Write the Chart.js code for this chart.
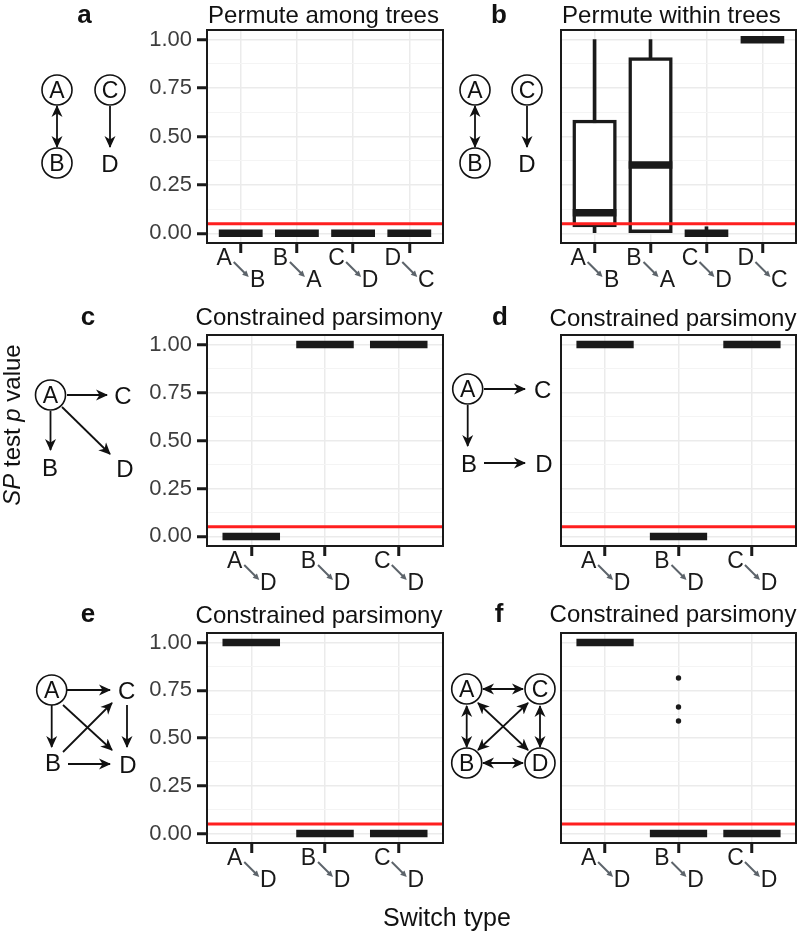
<!DOCTYPE html>
<html>
<head>
<meta charset="utf-8">
<script src="https://cdn.jsdelivr.net/npm/chart.js@4.4.1/dist/chart.umd.min.js"></script>
<style>
  body { margin: 0; background: #fff; }
  #fig { position: relative; width: 800px; height: 933px; font-family: 'Liberation Sans', Arial, Helvetica, sans-serif; }
  #fig canvas { position: absolute; }
  #fig svg { position: absolute; left: 0; top: 0; pointer-events: none; }
  .title { font-size: 24px; text-anchor: middle; fill: #111; }
  .tag { font-size: 26px; font-weight: bold; text-anchor: middle; fill: #111; }
  .dg circle { fill: none; stroke: #111; stroke-width: 1.6; }
  .cl { font-size: 23px; text-anchor: middle; fill: #111; }
  .pl { font-size: 24px; text-anchor: middle; fill: #111; }
  .one { stroke: #111; stroke-width: 1.8; marker-end: url(#ah); }
  .dbl { stroke: #111; stroke-width: 1.8; marker-start: url(#ah); marker-end: url(#ah); }
</style>
</head>
<body>
<div id="fig">
  <canvas id="pa" width="320" height="275" style="left:130px;top:25px"></canvas>
  <canvas id="pb" width="245" height="275" style="left:555px;top:25px"></canvas>
  <canvas id="pc" width="320" height="270" style="left:130px;top:330px"></canvas>
  <canvas id="pd" width="245" height="270" style="left:555px;top:330px"></canvas>
  <canvas id="pe" width="320" height="272" style="left:130px;top:628px"></canvas>
  <canvas id="pf" width="245" height="272" style="left:555px;top:628px"></canvas>

  <svg width="800" height="933">
    <defs>
      <marker id="ah" viewBox="0 0 12 12" refX="11" refY="6" markerWidth="12" markerHeight="12"
              markerUnits="userSpaceOnUse" orient="auto-start-reverse">
        <path d="M0,0.5 L12,6 L0,11.5 L3.5,6 Z" fill="#111"/>
      </marker>
    </defs>

    <!-- panel tags and titles -->
    <text class="tag" x="84.5" y="23">a</text>
    <text class="tag" x="499" y="23">b</text>
    <text class="tag" x="88" y="325">c</text>
    <text class="tag" x="500" y="325">d</text>
    <text class="tag" x="88" y="622">e</text>
    <text class="tag" x="499" y="622">f</text>
    <text class="title" x="323.5" y="23">Permute among trees</text>
    <text class="title" x="671.5" y="23">Permute within trees</text>
    <text class="title" x="319" y="325">Constrained parsimony</text>
    <text class="title" x="673" y="326">Constrained parsimony</text>
    <text class="title" x="319" y="623">Constrained parsimony</text>
    <text class="title" x="673" y="622">Constrained parsimony</text>

    <!-- axis titles -->
    <text transform="translate(20,425) rotate(-90)" text-anchor="middle" font-size="24" fill="#111"><tspan font-style="italic">SP</tspan> test <tspan font-style="italic">p</tspan> value</text>
    <text x="447" y="926" text-anchor="middle" font-size="25" fill="#111">Switch type</text>

    <!-- a: A<->B, C->D -->
    <g class="dg">
      <circle cx="57" cy="90" r="15"/><text class="cl" x="57" y="98.2">A</text>
      <circle cx="110" cy="90" r="15"/><text class="cl" x="110" y="98.2">C</text>
      <circle cx="57" cy="163" r="15"/><text class="cl" x="57" y="171.2">B</text>
      <text class="pl" x="110" y="171.6">D</text>
      <line class="dbl" x1="57" y1="106" x2="57" y2="147"/>
      <line class="one" x1="110" y1="106" x2="110" y2="147"/>
    </g>
    <!-- b -->
    <g class="dg">
      <circle cx="475" cy="90" r="15"/><text class="cl" x="475" y="98.2">A</text>
      <circle cx="527" cy="90" r="15"/><text class="cl" x="527" y="98.2">C</text>
      <circle cx="475" cy="163" r="15"/><text class="cl" x="475" y="171.2">B</text>
      <text class="pl" x="527" y="171.6">D</text>
      <line class="dbl" x1="475" y1="106" x2="475" y2="147"/>
      <line class="one" x1="527" y1="106" x2="527" y2="147"/>
    </g>
    <!-- c -->
    <g class="dg">
      <circle cx="50.5" cy="395" r="15"/><text class="cl" x="50.5" y="403.2">A</text>
      <text class="pl" x="123" y="403.6">C</text>
      <text class="pl" x="50" y="475.6">B</text>
      <text class="pl" x="125" y="476.6">D</text>
      <line class="one" x1="67" y1="395" x2="107" y2="395"/>
      <line class="one" x1="50.5" y1="411" x2="50.5" y2="450"/>
      <line class="one" x1="62" y1="407" x2="110" y2="454"/>
    </g>
    <!-- d -->
    <g class="dg">
      <circle cx="467.7" cy="389" r="15"/><text class="cl" x="467.7" y="397.2">A</text>
      <text class="pl" x="542.7" y="397.6">C</text>
      <text class="pl" x="469" y="471.6">B</text>
      <text class="pl" x="544" y="471.6">D</text>
      <line class="one" x1="484" y1="389" x2="525" y2="389"/>
      <line class="one" x1="467.7" y1="405" x2="467.7" y2="446"/>
      <line class="one" x1="484" y1="463" x2="525" y2="463"/>
    </g>
    <!-- e -->
    <g class="dg">
      <circle cx="51.7" cy="690" r="15"/><text class="cl" x="51.7" y="698.2">A</text>
      <text class="pl" x="126.7" y="698.6">C</text>
      <text class="pl" x="53" y="770.6">B</text>
      <text class="pl" x="128" y="772.6">D</text>
      <line class="one" x1="67" y1="690" x2="110" y2="690"/>
      <line class="one" x1="51.7" y1="705" x2="51.7" y2="747"/>
      <line class="one" x1="68" y1="764" x2="110" y2="764"/>
      <line class="one" x1="127" y1="705" x2="127" y2="747"/>
      <line class="one" x1="63" y1="705" x2="112" y2="750"/>
      <line class="one" x1="63" y1="752" x2="112" y2="703"/>
    </g>
    <!-- f -->
    <g class="dg">
      <circle cx="466.7" cy="689" r="15"/><text class="cl" x="466.7" y="697.2">A</text>
      <circle cx="540" cy="689" r="15"/><text class="cl" x="540" y="697.2">C</text>
      <circle cx="466.7" cy="763" r="15"/><text class="cl" x="466.7" y="771.2">B</text>
      <circle cx="540" cy="763" r="15"/><text class="cl" x="540" y="771.2">D</text>
      <line class="dbl" x1="483" y1="689" x2="523" y2="689"/>
      <line class="dbl" x1="483" y1="763" x2="523" y2="763"/>
      <line class="dbl" x1="466.7" y1="706" x2="466.7" y2="747"/>
      <line class="dbl" x1="540" y1="706" x2="540" y2="747"/>
      <line class="dbl" x1="478" y1="703" x2="528" y2="750"/>
      <line class="dbl" x1="478" y1="750" x2="528" y2="703"/>
    </g>
  </svg>
</div>

<script>
// ---- data ----
const yTicks = [0, 0.25, 0.5, 0.75, 1];
const yMinor = [0.125, 0.375, 0.625, 0.875];
const threshold = 0.05;

const switchesAB = ['A→B', 'B→A', 'C→D', 'D→C'];
const switchesD = ['A→D', 'B→D', 'C→D'];

// five-number summaries per switch: [min, q1, median, q3, max]
const statsA = [[0, 0, 0, 0, 0], [0, 0, 0, 0, 0], [0, 0, 0, 0, 0], [0, 0, 0, 0, 0]];
const statsB = [[0, 0.033, 0.106, 0.585, 1], [0, 0, 0.353, 0.907, 1], [0, 0, 0, 0, 0.034], [1, 1, 1, 1, 1]];
const statsC = [[0, 0, 0, 0, 0], [1, 1, 1, 1, 1], [1, 1, 1, 1, 1]];
const statsD = [[1, 1, 1, 1, 1], [0, 0, 0, 0, 0], [1, 1, 1, 1, 1]];
const statsE = [[1, 1, 1, 1, 1], [0, 0, 0, 0, 0], [0, 0, 0, 0, 0]];
const statsF = [[1, 1, 1, 1, 1], [0, 0, 0, 0, 0], [0, 0, 0, 0, 0]];
const outliersF = [[], [0.814, 0.662, 0.589], []];

// ---- drawing ----
const FONT = "'Liberation Sans', Arial, Helvetica, sans-serif";
Chart.defaults.font.family = FONT;

const INK = '#1a1a1a';
const GRID = '#ebebeb';
const GRID_MINOR = '#f4f4f4';
const RED = '#ff1f1f';
const BOX_FRAC = 0.78;

function arrow(ctx, x1, y1, x2, y2) {
  const ang = Math.atan2(y2 - y1, x2 - x1), h = 7;
  ctx.strokeStyle = ctx.fillStyle = '#5d646b';
  ctx.lineWidth = 2;
  ctx.beginPath();
  ctx.moveTo(x1, y1);
  ctx.lineTo(x2 - h * 0.6 * Math.cos(ang), y2 - h * 0.6 * Math.sin(ang));
  ctx.stroke();
  ctx.beginPath();
  ctx.moveTo(x2, y2);
  ctx.lineTo(x2 - h * Math.cos(ang - 0.45), y2 - h * Math.sin(ang - 0.45));
  ctx.lineTo(x2 - h * Math.cos(ang + 0.45), y2 - h * Math.sin(ang + 0.45));
  ctx.closePath();
  ctx.fill();
}

function panelDecor(cats) {
  return {
    id: 'panelDecor',
    afterDatasetsDraw(chart) {
      const { ctx, chartArea: a } = chart;
      ctx.save();
      ctx.strokeStyle = INK;
      ctx.lineWidth = 2;
      ctx.strokeRect(a.left, a.top, a.right - a.left, a.bottom - a.top);
      ctx.restore();
    },
    afterDraw(chart) {
      const ctx = chart.ctx, x = chart.scales.x, b = chart.chartArea.bottom;
      ctx.save();
      ctx.font = '23px ' + FONT;
      ctx.textAlign = 'center';
      ctx.textBaseline = 'alphabetic';
      cats.forEach((c, i) => {
        const [from, to] = c.split('→');
        const px = x.getPixelForValue(i + 1);
        ctx.fillStyle = INK;
        ctx.fillText(from, px - 16.5, b + 22);
        ctx.fillText(to, px + 17, b + 44);
        arrow(ctx, px - 7, b + 19, px + 8, b + 34);
      });
      ctx.restore();
    }
  };
}

function boxPanel(id, cats, stats, outliers, g) {
  const n = cats.length;
  const boxPx = BOX_FRAC * (g.w - g.yw - g.padR) / (n + 0.2);
  const pos = cats.map((c, i) => i + 1);
  const whiskers = stats.map((s, i) => ({ x: pos[i], y: [s[0], s[4]] })).filter(d => d.y[0] < d.y[1]);
  const boxes = stats.map((s, i) => ({ x: pos[i], y: [s[1], s[3]] })).filter(d => d.y[0] < d.y[1]);
  const medians = stats.map((s, i) => ({ x: pos[i], y: s[2] }));
  const outs = (outliers || []).flatMap((vals, i) => vals.map(v => ({ x: pos[i], y: v })));

  new Chart(document.getElementById(id), {
    type: 'bar',
    data: {
      datasets: [
        { type: 'line', data: [{ x: 0, y: threshold }, { x: 1, y: threshold }], xAxisID: 'xr', yAxisID: 'y',
          borderColor: RED, borderWidth: 3, pointRadius: 0, order: 0 },
        { type: 'line', data: outs, xAxisID: 'x', yAxisID: 'y', showLine: false,
          pointRadius: 2.7, pointBackgroundColor: INK, pointBorderWidth: 0, order: 1 },
        { type: 'line', data: medians, xAxisID: 'x', yAxisID: 'y', showLine: false, pointStyle: 'line',
          pointRadius: boxPx / 2, pointBorderWidth: 7.5, pointBorderColor: INK, order: 2 },
        { type: 'bar', data: boxes, xAxisID: 'x', yAxisID: 'y', grouped: false, barThickness: boxPx,
          backgroundColor: '#fff', borderColor: INK, borderWidth: 3.5, borderSkipped: false, order: 3 },
        { type: 'bar', data: whiskers, xAxisID: 'x', yAxisID: 'y', grouped: false, barThickness: 3,
          backgroundColor: INK, borderWidth: 0, order: 4 }
      ]
    },
    options: {
      responsive: false,
      animation: false,
      events: [],
      layout: { autoPadding: false, padding: { top: g.padT, right: g.padR, left: 0, bottom: 0 } },
      plugins: { legend: { display: false }, tooltip: { enabled: false } },
      scales: {
        x: {
          type: 'linear', min: 0.4, max: n + 0.6, offset: false,
          afterBuildTicks: s => { s.ticks = pos.map(v => ({ value: v })); },
          afterFit: s => { s.height = g.xh; s.paddingLeft = s.paddingRight = 0; },
          ticks: { display: false },
          grid: { color: GRID, lineWidth: 1.5, offset: false, drawTicks: true,
                  tickColor: INK, tickWidth: 3, tickLength: 10 },
          border: { display: false }
        },
        xr: { type: 'linear', min: 0, max: 1, display: false, offset: false, grid: { offset: false } },
        y: {
          type: 'linear', position: 'left', min: -0.05, max: 1.05,
          afterBuildTicks: s => { s.ticks = yTicks.map(v => ({ value: v })); },
          afterFit: s => { s.width = g.yw; s.paddingTop = s.paddingBottom = 0; },
          ticks: { display: g.showY, callback: v => v.toFixed(2), color: '#3d3d3d',
                   font: { size: 22 }, padding: 5 },
          grid: { color: GRID, lineWidth: 1.5, drawTicks: g.showY,
                  tickColor: INK, tickWidth: 3, tickLength: 10 },
          border: { display: false }
        },
        ym: {
          type: 'linear', position: 'left', min: -0.05, max: 1.05,
          afterBuildTicks: s => { s.ticks = yMinor.map(v => ({ value: v })); },
          afterFit: s => { s.width = 0; s.paddingTop = s.paddingBottom = 0; },
          ticks: { display: false },
          grid: { color: GRID_MINOR, lineWidth: 1, drawTicks: false },
          border: { display: false }
        }
      }
    },
    plugins: [panelDecor(cats)]
  });
}

const leftGeom = (h, xh) => ({ w: 320, h, padT: 5, padR: 7, yw: 77, xh, showY: true });
const rightGeom = (h, xh) => ({ w: 245, h, padT: 5, padR: 4, yw: 6, xh, showY: false });

boxPanel('pa', switchesAB, statsA, null, leftGeom(275, 57));
boxPanel('pb', switchesAB, statsB, null, rightGeom(275, 57));
boxPanel('pc', switchesD, statsC, null, leftGeom(270, 54));
boxPanel('pd', switchesD, statsD, null, rightGeom(270, 54));
boxPanel('pe', switchesD, statsE, null, leftGeom(272, 57));
boxPanel('pf', switchesD, statsF, outliersF, rightGeom(272, 57));
</script>
</body>
</html>
